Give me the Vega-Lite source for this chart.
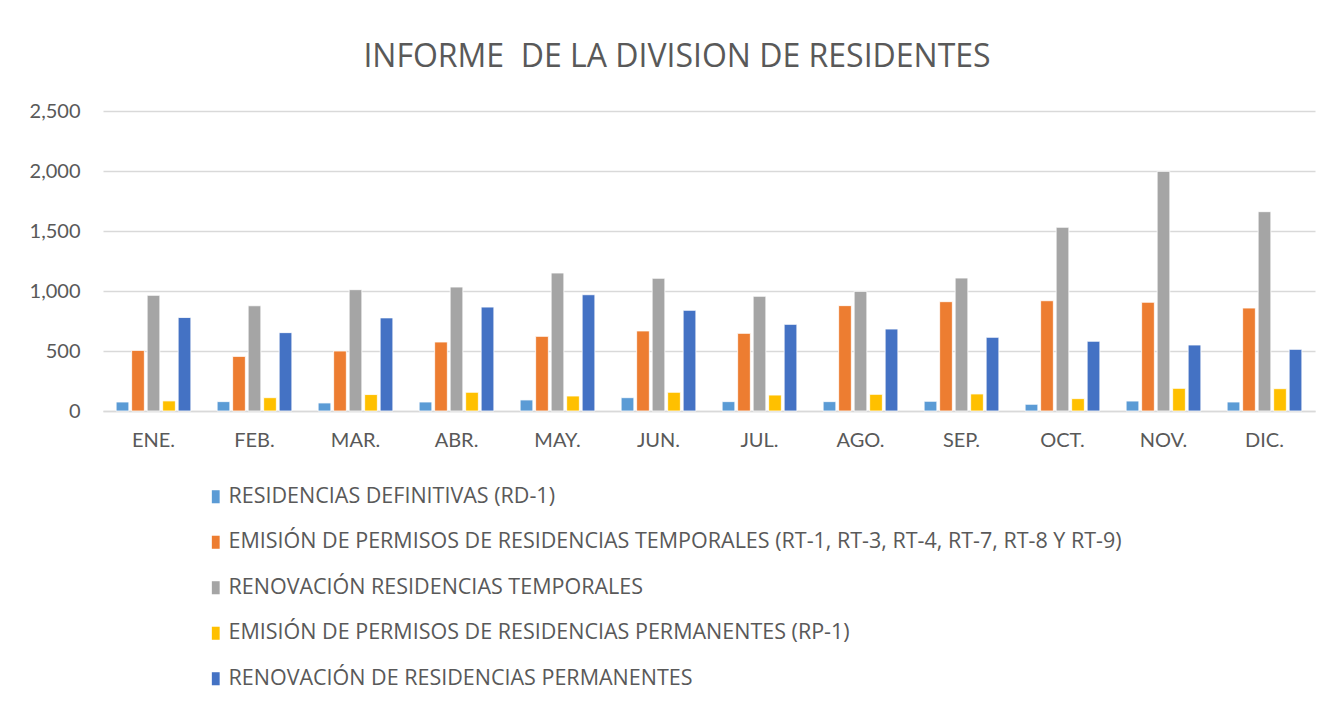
{
  "$schema": "https://vega.github.io/schema/vega-lite/v6.json",
  "width": 1212,
  "height": 300,
  "autosize": {"type": "none"},
  "padding": {"left": 103, "top": 111, "right": 18, "bottom": 291},
  "background": "white",
  "title": {
    "text": "INFORME\u00a0 DE LA DIVISION DE RESIDENTES",
    "font": "Open Sans",
    "fontSize": 32,
    "fontWeight": "normal",
    "color": "#595959",
    "anchor": "middle",
    "offset": 27,
    "dx": -32
  },
  "data": {
    "values": [
      {"mes": "ENE.", "serie": "RESIDENCIAS DEFINITIVAS (RD-1)", "valor": 75},
      {"mes": "ENE.", "serie": "EMISIÓN DE PERMISOS DE RESIDENCIAS TEMPORALES  (RT-1, RT-3, RT-4, RT-7, RT-8 Y RT-9)", "valor": 505},
      {"mes": "ENE.", "serie": "RENOVACIÓN RESIDENCIAS TEMPORALES", "valor": 964},
      {"mes": "ENE.", "serie": "EMISIÓN DE PERMISOS DE RESIDENCIAS PERMANENTES (RP-1)", "valor": 84},
      {"mes": "ENE.", "serie": "RENOVACIÓN DE RESIDENCIAS PERMANENTES", "valor": 779},
      {"mes": "FEB.", "serie": "RESIDENCIAS DEFINITIVAS (RD-1)", "valor": 78},
      {"mes": "FEB.", "serie": "EMISIÓN DE PERMISOS DE RESIDENCIAS TEMPORALES  (RT-1, RT-3, RT-4, RT-7, RT-8 Y RT-9)", "valor": 455},
      {"mes": "FEB.", "serie": "RENOVACIÓN RESIDENCIAS TEMPORALES", "valor": 877},
      {"mes": "FEB.", "serie": "EMISIÓN DE PERMISOS DE RESIDENCIAS PERMANENTES (RP-1)", "valor": 111},
      {"mes": "FEB.", "serie": "RENOVACIÓN DE RESIDENCIAS PERMANENTES", "valor": 653},
      {"mes": "MAR.", "serie": "RESIDENCIAS DEFINITIVAS (RD-1)", "valor": 67},
      {"mes": "MAR.", "serie": "EMISIÓN DE PERMISOS DE RESIDENCIAS TEMPORALES  (RT-1, RT-3, RT-4, RT-7, RT-8 Y RT-9)", "valor": 500},
      {"mes": "MAR.", "serie": "RENOVACIÓN RESIDENCIAS TEMPORALES", "valor": 1011},
      {"mes": "MAR.", "serie": "EMISIÓN DE PERMISOS DE RESIDENCIAS PERMANENTES (RP-1)", "valor": 137},
      {"mes": "MAR.", "serie": "RENOVACIÓN DE RESIDENCIAS PERMANENTES", "valor": 776},
      {"mes": "ABR.", "serie": "RESIDENCIAS DEFINITIVAS (RD-1)", "valor": 75},
      {"mes": "ABR.", "serie": "EMISIÓN DE PERMISOS DE RESIDENCIAS TEMPORALES  (RT-1, RT-3, RT-4, RT-7, RT-8 Y RT-9)", "valor": 575},
      {"mes": "ABR.", "serie": "RENOVACIÓN RESIDENCIAS TEMPORALES", "valor": 1033},
      {"mes": "ABR.", "serie": "EMISIÓN DE PERMISOS DE RESIDENCIAS PERMANENTES (RP-1)", "valor": 156},
      {"mes": "ABR.", "serie": "RENOVACIÓN DE RESIDENCIAS PERMANENTES", "valor": 866},
      {"mes": "MAY.", "serie": "RESIDENCIAS DEFINITIVAS (RD-1)", "valor": 92},
      {"mes": "MAY.", "serie": "EMISIÓN DE PERMISOS DE RESIDENCIAS TEMPORALES  (RT-1, RT-3, RT-4, RT-7, RT-8 Y RT-9)", "valor": 622},
      {"mes": "MAY.", "serie": "RENOVACIÓN RESIDENCIAS TEMPORALES", "valor": 1150},
      {"mes": "MAY.", "serie": "EMISIÓN DE PERMISOS DE RESIDENCIAS PERMANENTES (RP-1)", "valor": 125},
      {"mes": "MAY.", "serie": "RENOVACIÓN DE RESIDENCIAS PERMANENTES", "valor": 969},
      {"mes": "JUN.", "serie": "RESIDENCIAS DEFINITIVAS (RD-1)", "valor": 111},
      {"mes": "JUN.", "serie": "EMISIÓN DE PERMISOS DE RESIDENCIAS TEMPORALES  (RT-1, RT-3, RT-4, RT-7, RT-8 Y RT-9)", "valor": 667},
      {"mes": "JUN.", "serie": "RENOVACIÓN RESIDENCIAS TEMPORALES", "valor": 1106},
      {"mes": "JUN.", "serie": "EMISIÓN DE PERMISOS DE RESIDENCIAS PERMANENTES (RP-1)", "valor": 156},
      {"mes": "JUN.", "serie": "RENOVACIÓN DE RESIDENCIAS PERMANENTES", "valor": 839},
      {"mes": "JUL.", "serie": "RESIDENCIAS DEFINITIVAS (RD-1)", "valor": 78},
      {"mes": "JUL.", "serie": "EMISIÓN DE PERMISOS DE RESIDENCIAS TEMPORALES  (RT-1, RT-3, RT-4, RT-7, RT-8 Y RT-9)", "valor": 647},
      {"mes": "JUL.", "serie": "RENOVACIÓN RESIDENCIAS TEMPORALES", "valor": 956},
      {"mes": "JUL.", "serie": "EMISIÓN DE PERMISOS DE RESIDENCIAS PERMANENTES (RP-1)", "valor": 133},
      {"mes": "JUL.", "serie": "RENOVACIÓN DE RESIDENCIAS PERMANENTES", "valor": 722},
      {"mes": "AGO.", "serie": "RESIDENCIAS DEFINITIVAS (RD-1)", "valor": 78},
      {"mes": "AGO.", "serie": "EMISIÓN DE PERMISOS DE RESIDENCIAS TEMPORALES  (RT-1, RT-3, RT-4, RT-7, RT-8 Y RT-9)", "valor": 878},
      {"mes": "AGO.", "serie": "RENOVACIÓN RESIDENCIAS TEMPORALES", "valor": 997},
      {"mes": "AGO.", "serie": "EMISIÓN DE PERMISOS DE RESIDENCIAS PERMANENTES (RP-1)", "valor": 139},
      {"mes": "AGO.", "serie": "RENOVACIÓN DE RESIDENCIAS PERMANENTES", "valor": 683},
      {"mes": "SEP.", "serie": "RESIDENCIAS DEFINITIVAS (RD-1)", "valor": 81},
      {"mes": "SEP.", "serie": "EMISIÓN DE PERMISOS DE RESIDENCIAS TEMPORALES  (RT-1, RT-3, RT-4, RT-7, RT-8 Y RT-9)", "valor": 911},
      {"mes": "SEP.", "serie": "RENOVACIÓN RESIDENCIAS TEMPORALES", "valor": 1108},
      {"mes": "SEP.", "serie": "EMISIÓN DE PERMISOS DE RESIDENCIAS PERMANENTES (RP-1)", "valor": 142},
      {"mes": "SEP.", "serie": "RENOVACIÓN DE RESIDENCIAS PERMANENTES", "valor": 614},
      {"mes": "OCT.", "serie": "RESIDENCIAS DEFINITIVAS (RD-1)", "valor": 56},
      {"mes": "OCT.", "serie": "EMISIÓN DE PERMISOS DE RESIDENCIAS TEMPORALES  (RT-1, RT-3, RT-4, RT-7, RT-8 Y RT-9)", "valor": 919},
      {"mes": "OCT.", "serie": "RENOVACIÓN RESIDENCIAS TEMPORALES", "valor": 1531},
      {"mes": "OCT.", "serie": "EMISIÓN DE PERMISOS DE RESIDENCIAS PERMANENTES (RP-1)", "valor": 103},
      {"mes": "OCT.", "serie": "RENOVACIÓN DE RESIDENCIAS PERMANENTES", "valor": 581},
      {"mes": "NOV.", "serie": "RESIDENCIAS DEFINITIVAS (RD-1)", "valor": 83},
      {"mes": "NOV.", "serie": "EMISIÓN DE PERMISOS DE RESIDENCIAS TEMPORALES  (RT-1, RT-3, RT-4, RT-7, RT-8 Y RT-9)", "valor": 906},
      {"mes": "NOV.", "serie": "RENOVACIÓN RESIDENCIAS TEMPORALES", "valor": 1997},
      {"mes": "NOV.", "serie": "EMISIÓN DE PERMISOS DE RESIDENCIAS PERMANENTES (RP-1)", "valor": 189},
      {"mes": "NOV.", "serie": "RENOVACIÓN DE RESIDENCIAS PERMANENTES", "valor": 550},
      {"mes": "DIC.", "serie": "RESIDENCIAS DEFINITIVAS (RD-1)", "valor": 75},
      {"mes": "DIC.", "serie": "EMISIÓN DE PERMISOS DE RESIDENCIAS TEMPORALES  (RT-1, RT-3, RT-4, RT-7, RT-8 Y RT-9)", "valor": 858},
      {"mes": "DIC.", "serie": "RENOVACIÓN RESIDENCIAS TEMPORALES", "valor": 1661},
      {"mes": "DIC.", "serie": "EMISIÓN DE PERMISOS DE RESIDENCIAS PERMANENTES (RP-1)", "valor": 186},
      {"mes": "DIC.", "serie": "RENOVACIÓN DE RESIDENCIAS PERMANENTES", "valor": 514}
    ]
  },
  "mark": {"type": "bar", "stroke": "white", "strokeWidth": 0.8},
  "encoding": {
    "x": {
      "field": "mes",
      "type": "nominal",
      "sort": ["ENE.", "FEB.", "MAR.", "ABR.", "MAY.", "JUN.", "JUL.", "AGO.", "SEP.", "OCT.", "NOV.", "DIC."],
      "scale": {"paddingInner": 0.26, "paddingOuter": 0.13},
      "axis": {
        "title": null,
        "labelAngle": 0,
        "labelFont": "Lato",
        "labelFontSize": 20,
        "labelColor": "#595959",
        "labelPadding": 19,
        "ticks": false,
        "domainColor": "#d9d9d9",
        "domainWidth": 1.5,
        "grid": false
      }
    },
    "xOffset": {
      "field": "serie",
      "type": "nominal",
      "sort": ["RESIDENCIAS DEFINITIVAS (RD-1)", "EMISIÓN DE PERMISOS DE RESIDENCIAS TEMPORALES  (RT-1, RT-3, RT-4, RT-7, RT-8 Y RT-9)", "RENOVACIÓN RESIDENCIAS TEMPORALES", "EMISIÓN DE PERMISOS DE RESIDENCIAS PERMANENTES (RP-1)", "RENOVACIÓN DE RESIDENCIAS PERMANENTES"],
      "scale": {"paddingInner": 0.18, "paddingOuter": 0}
    },
    "y": {
      "field": "valor",
      "type": "quantitative",
      "scale": {"domain": [0, 2500]},
      "axis": {
        "title": null,
        "values": [0, 500, 1000, 1500, 2000, 2500],
        "format": ",.0f",
        "labelFont": "Lato",
        "labelFontSize": 20,
        "labelColor": "#595959",
        "labelPadding": 23,
        "ticks": false,
        "domain": false,
        "gridColor": "#d9d9d9",
        "gridWidth": 1.5
      }
    },
    "color": {
      "field": "serie",
      "type": "nominal",
      "scale": {
        "domain": ["RESIDENCIAS DEFINITIVAS (RD-1)", "EMISIÓN DE PERMISOS DE RESIDENCIAS TEMPORALES  (RT-1, RT-3, RT-4, RT-7, RT-8 Y RT-9)", "RENOVACIÓN RESIDENCIAS TEMPORALES", "EMISIÓN DE PERMISOS DE RESIDENCIAS PERMANENTES (RP-1)", "RENOVACIÓN DE RESIDENCIAS PERMANENTES"],
        "range": ["#5B9BD5", "#ED7D31", "#A5A5A5", "#FFC000", "#4472C4"]
      },
      "legend": {
        "title": null,
        "orient": "none",
        "direction": "vertical",
        "legendX": 102,
        "legendY": 375,
        "padding": 0,
        "symbolType": "M-0.6,-1H0.6V1H-0.6Z",
        "symbolSize": 170,
        "symbolStrokeWidth": 0,
        "labelFont": "Open Sans",
        "labelFontSize": 21.5,
        "labelColor": "#595959",
        "labelOffset": 2,
        "labelLimit": 1150,
        "rowPadding": 22.5
      }
    }
  },
  "config": {"view": {"stroke": null}}
}
